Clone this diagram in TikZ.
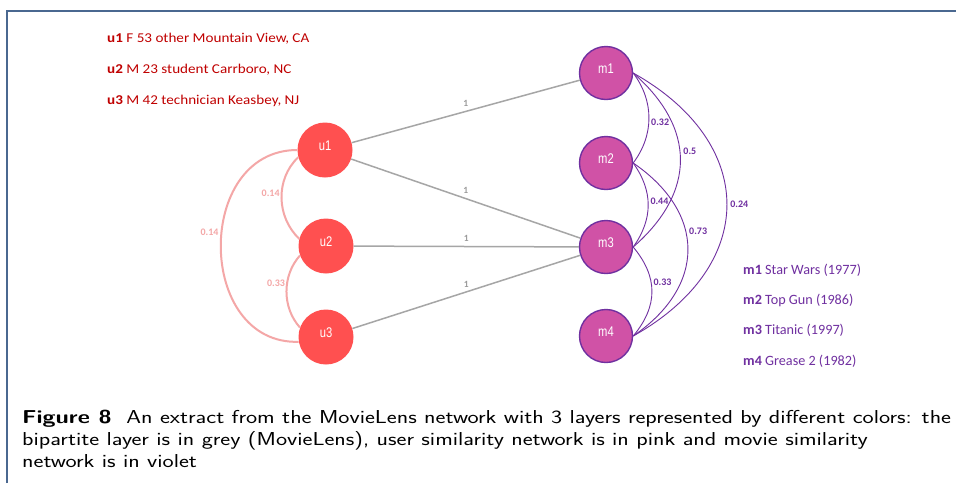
\documentclass[tikz,border=0pt]{standalone}
\usepackage{fontspec}
\setmainfont{Carlito}
\newfontfamily\narrowfont[FakeStretch=0.8]{Liberation Sans}
\definecolor{ured}{HTML}{FF5050}
\definecolor{mfill}{HTML}{D052A6}
\definecolor{violetc}{HTML}{7030A0}
\definecolor{pinkc}{HTML}{F4A7A7}
\definecolor{greyc}{HTML}{A6A6A6}
\definecolor{greyl}{HTML}{9A9A9A}
\definecolor{legred}{HTML}{C00000}
\definecolor{framec}{HTML}{4A6890}
\newcommand{\capline}[1]{\scalebox{1.265}[1]{#1}}
\newcommand{\legline}[1]{\scalebox{1.12}[1]{#1}}
\begin{document}
\begin{tikzpicture}[x=1pt,y=-1pt,
  unode/.style={circle, fill=ured, minimum size=55pt, inner sep=0pt, text=white,
    text height=9pt, text depth=9pt, font=\narrowfont\fontsize{14}{14}\selectfont},
  mnode/.style={circle, fill=mfill, draw=violetc, line width=1.4pt, minimum size=53pt, inner sep=0pt, text=white,
    text height=9pt, text depth=9pt, font=\narrowfont\fontsize{14}{14}\selectfont},
  bip/.style={draw=greyc, line width=1.5pt},
  bipl/.style={midway, above=3pt, inner sep=1pt, text=greyl, font=\fontsize{9.5}{9.5}\selectfont\bfseries},
  usim/.style={draw=pinkc, line width=2pt},
  usiml/.style={inner sep=1pt, text=pinkc, font=\fontsize{10}{10}\selectfont\bfseries},
  msim/.style={draw=violetc, line width=0.9pt},
  msiml/.style={inner sep=1pt, text=violetc, font=\fontsize{10}{10}\selectfont\bfseries},
  legu/.style={anchor=west, inner sep=0pt, text=legred, font=\fontsize{13.5}{13.5}\selectfont},
  legm/.style={anchor=west, inner sep=0pt, text=violetc, font=\fontsize{14.2}{14.2}\selectfont},
  capt/.style={anchor=base west, inner sep=0pt, font=\sffamily\fontsize{18.7}{22}\selectfont}
]
\useasboundingbox (0,0) rectangle (956,483);
\fill[white] (0,0) rectangle (956,483);
\draw[framec, line width=1.5pt] (7,483) -- (7,11) -- (956,11);

% legends
\node[legu] (lu1) at (107,39) {\legline{\textbf{u1} F 53 other Mountain View, CA}};
\node[legu] (lu2) at (107,70) {\legline{\textbf{u2} M 23 student Carrboro, NC}};
\node[legu] (lu3) at (107,101) {\legline{\textbf{u3} M 42 technician Keasbey, NJ}};
\node[legm] (lm1) at (743,270) {\textbf{m1} Star Wars (1977)};
\node[legm] (lm2) at (743,300) {\textbf{m2} Top Gun (1986)};
\node[legm] (lm3) at (743,330) {\textbf{m3} Titanic (1997)};
\node[legm] (lm4) at (743,361) {\textbf{m4} Grease 2 (1982)};

% nodes
\node[unode] (u1) at (325,150) {u1};
\node[unode] (u2) at (326,246) {u2};
\node[unode] (u3) at (326,337) {u3};
\node[mnode] (m1) at (606,73) {m1};
\node[mnode] (m2) at (606,163) {m2};
\node[mnode] (m3) at (606,247) {m3};
\node[mnode] (m4) at (606,336) {m4};

% bipartite
\draw[bip] (u1) -- (m1) node[bipl] {1};
\draw[bip] (u1) -- (m3) node[bipl] {1};
\draw[bip] (u2) -- (m3) node[bipl] {1};
\draw[bip] (u3) -- (m3) node[bipl] {1};

% user similarity
\draw[usim] (u1.195) .. controls +(-23,22) and +(-23,-22) .. (u2.165)
  node[usiml, pos=0.45, left=0pt] {0.14};
\draw[usim] (u2.200) .. controls +(-18,20) and +(-18,-20) .. (u3.160)
  node[usiml, pos=0.4, left=0pt] {0.33};
\draw[usim] (u1.west) .. controls +(-103,0) and +(-103,3) .. (u3.190)
  node[usiml, pos=0.45, left=1pt] {0.14};

% movie similarity
\draw[msim] (m1.east) .. controls +(21,28) and +(21,-28) .. (m2.east)
  node[msiml, pos=0.55, right=1pt] {0.32};
\draw[msim] (m1.east) .. controls +(63,55) and +(63,-55) .. (m3.east)
  node[msiml, pos=0.45, right=2pt] {0.5};
\draw[msim] (m1.east) .. controls +(125,70) and +(125,-70) .. (m4.east)
  node[msiml, pos=0.5, right=2pt] {0.24};
\draw[msim] (m2.east) .. controls +(20,28) and +(20,-28) .. (m3.east)
  node[msiml, pos=0.45, right=1pt] {0.44};
\draw[msim] (m2.east) .. controls +(73,50) and +(73,-50) .. (m4.east)
  node[msiml, pos=0.4, right=2pt] {0.73};
\draw[msim] (m3.east) .. controls +(25,30) and +(25,-30) .. (m4.east)
  node[msiml, pos=0.4, right=1pt] {0.33};

% caption
\node[capt] (c1) at (22,423) {\capline{\textbf{Figure 8}\ \ An extract from the MovieLens network with 3 layers represented by different colors: the}};
\node[capt] (c2) at (22,445) {\capline{bipartite layer is in grey (MovieLens), user similarity network is in pink and movie similarity}};
\node[capt] (c3) at (22,467) {\capline{network is in violet}};
\end{tikzpicture}
\end{document}
